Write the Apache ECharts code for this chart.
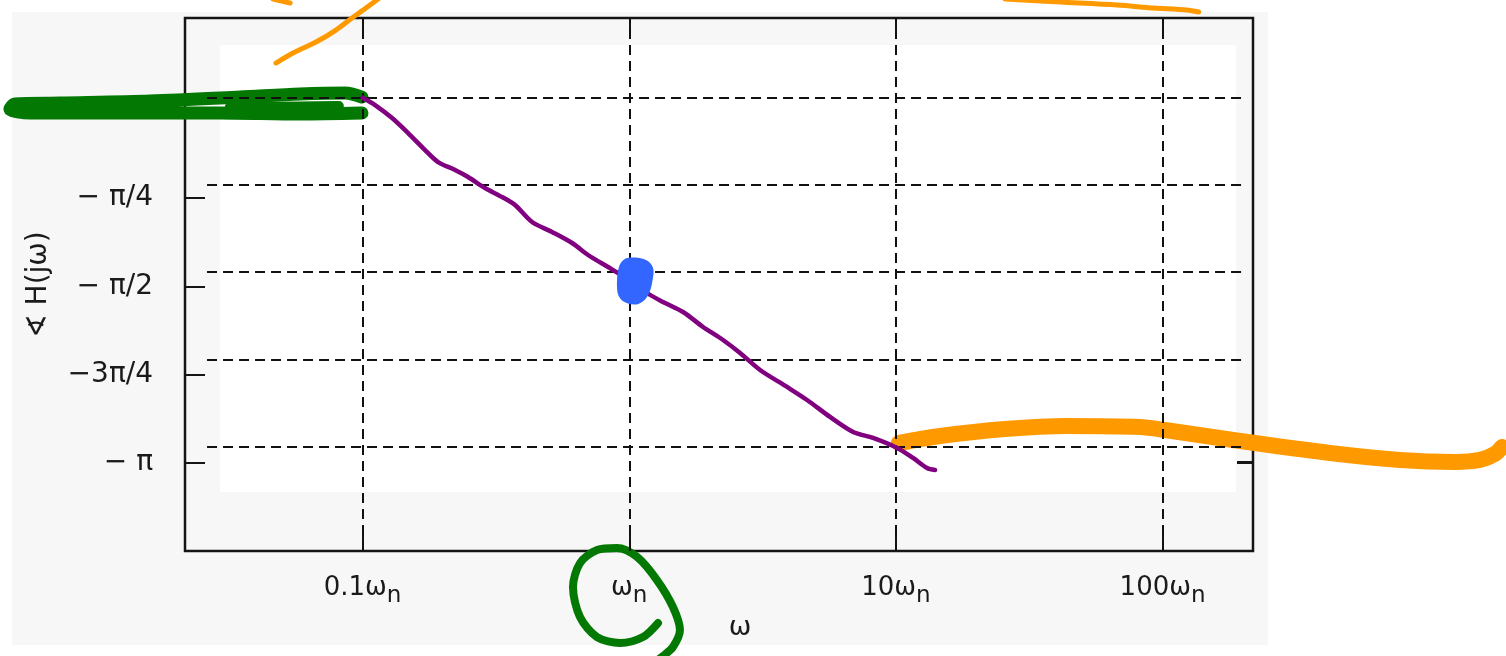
<!DOCTYPE html>
<html>
<head>
<meta charset="utf-8">
<script src="https://cdn.jsdelivr.net/npm/echarts@6/dist/echarts.min.js"></script>
<style>
  html, body { margin: 0; padding: 0; background: #ffffff; }
  #chart { width: 1506px; height: 656px; }
</style>
</head>
<body>
<div id="chart"></div>
<script>
// Phase response of a second-order system, plotted against ω on a log scale (units of ωn)
const PI = Math.PI;

// frequency axis ticks (ω/ωn) and the coefficient written before ωn
const freqTicks = [0.1, 1, 10, 100];
const freqTickPrefix = ['0.1', '', '10', '100'];

// phase axis ticks (rad) and their labels
const phaseTicks = [0, -PI / 4, -PI / 2, -3 * PI / 4, -PI];
const phaseTickLabels = ['0', '− π/4', '− π/2', '−3π/4', '− π'];

// dashed reference grid
const gridFreqs = [0.1, 1, 10, 100];
const gridPhases = [0, -PI / 4, -PI / 2, -3 * PI / 4, -PI];
const gridSpanFreq = [0.0261, 204];

// phase curve sketched in purple: ω/ωn and phase (rad)
const curveW = [0.1, 0.1114, 0.129, 0.1481, 0.1715, 0.1919, 0.2222, 0.2485, 0.2879, 0.3334, 0.373,
  0.432, 0.5135, 0.6103, 0.7005, 0.8328, 0.9078, 1.024, 1.166, 1.339, 1.591, 1.891, 2.247, 2.604,
  3.094, 3.906, 4.642, 5.662, 6.907, 8.208, 10.1, 11.59, 13.08, 14.02];
const curvePhase = [0, -0.066, -0.183, -0.318, -0.471, -0.579, -0.651, -0.714, -0.813, -0.894, -0.966,
  -1.119, -1.209, -1.308, -1.416, -1.524, -1.578, -1.65, -1.758, -1.839, -1.929, -2.064, -2.181, -2.298,
  -2.451, -2.604, -2.721, -2.874, -3.009, -3.063, -3.153, -3.243, -3.333, -3.351];

// marker at the natural frequency
const dotW = [1.051];
const dotPhase = [-1.65];

// low-frequency asymptote (green loop)
const lowW = [0.0995, 0.086, 0.0583, 0.0347, 0.016, 0.00734, 0.00497, 0.00476, 0.00566, 0.0123,
  0.0292, 0.0583, 0.0995];
const lowPhase = [0.006, 0.042, 0.033, 0.006, -0.03, -0.048, -0.057, -0.102, -0.138, -0.138,
  -0.138, -0.147, -0.138];
const lowInnerW = [0.0318, 0.0583, 0.0815];
const lowInnerPhase = [-0.084, -0.079, -0.075];

// high-frequency asymptote (orange band)
const highW = [10.27, 14.64, 25.66, 43.83, 82.33, 102.1, 195.2, 424.6, 777.1, 1249, 1551, 1765, 1875];
const highPhase = [-3.108, -3.045, -2.982, -2.955, -2.964, -2.991, -3.09, -3.198, -3.261, -3.279,
  -3.261, -3.207, -3.144];

// thin orange strokes along the top edge
const arcW = [0.04735, 0.0553, 0.0669, 0.0795, 0.0913, 0.103, 0.1183];
const arcPhase = [0.312, 0.407, 0.501, 0.609, 0.717, 0.807, 0.915];
const tickW = [0.0462, 0.0535];
const tickPhase = [0.888, 0.852];
const topW = [25.66, 41.26, 67.49, 92.6, 123.2, 136.6];
const topPhase = [0.888, 0.861, 0.834, 0.807, 0.789, 0.771];

// circle drawn round the ωn label
const ringW = [1.282, 1.126, 0.9236, 0.7575, 0.6539, 0.6155, 0.6539, 0.7575, 0.9, 1.07, 1.271,
  1.459, 1.55, 1.459, 1.339, 1.249];
const ringPhase = [-4.729, -4.855, -4.909, -4.855, -4.675, -4.405, -4.189, -4.071, -4.053, -4.134,
  -4.342, -4.585, -4.792, -4.945, -5.026, -5.08];

const lg = Math.log10;
const pts = (w, p) => w.map((x, i) => [lg(x), p[i]]);

const FONT = '"DejaVu Sans", "Liberation Sans", sans-serif';
const INK = '#1a1a1a';
const FRAME = '#151515';

const chart = echarts.init(document.getElementById('chart'), null, { renderer: 'canvas' });

// plot frame extents (log10 ω/ωn, rad)
const X_MIN = -1.666, X_MAX = 2.339;
// the same scales stretched over the whole canvas, for the freehand strokes
const OX_MIN = -2.3595, OX_MAX = 3.288, OY_MIN = -5.0257, OY_MAX = 0.8795;

function stroke(name, data, color, width, z) {
  return {
    name, type: 'line', xAxisIndex: 2, yAxisIndex: 3, data,
    smooth: 0.3, showSymbol: false, symbol: 'none', clip: false, silent: true, z,
    lineStyle: { color, width, cap: 'round', join: 'round' }
  };
}

const hiddenAxis = {
  axisLine: { show: false }, axisTick: { show: false }, axisLabel: { show: false }, splitLine: { show: false }
};

chart.setOption({
  animation: false,
  backgroundColor: '#ffffff',
  graphic: [
    { type: 'rect', z: -20, silent: true, shape: { x: 12, y: 12, width: 1256, height: 633 }, style: { fill: '#f7f7f7' } },
    { type: 'rect', z: -19, silent: true, shape: { x: 220, y: 45, width: 1016, height: 447 }, style: { fill: '#ffffff' } }
  ],
  grid: [
    {
      left: 185, right: 253, top: 18, bottom: 105,
      show: true, borderColor: FRAME, borderWidth: 2.5, backgroundColor: 'transparent'
    },
    { left: 0, right: 0, top: 0, bottom: 0, show: false }
  ],
  xAxis: [
    {
      type: 'value', gridIndex: 0, position: 'bottom', min: X_MIN, max: X_MAX,
      name: 'ω', nameLocation: 'middle', nameGap: 63,
      nameTextStyle: { fontFamily: FONT, fontSize: 27, color: INK, padding: [0, 0, 0, 42] },
      axisLine: { show: false, onZero: false },
      splitLine: { show: false },
      axisTick: {
        show: true, inside: true, length: 16, customValues: freqTicks.map(lg),
        lineStyle: { color: FRAME, width: 2 }
      },
      axisLabel: {
        show: true, margin: 17, customValues: freqTicks.map(lg),
        formatter: (v) => {
          const i = freqTicks.findIndex(f => Math.abs(lg(f) - v) < 1e-6);
          return '{m|' + freqTickPrefix[i] + 'ω}{s|n}';
        },
        rich: {
          m: { fontFamily: FONT, fontSize: 26, color: INK, lineHeight: 40 },
          s: { fontFamily: FONT, fontSize: 23, color: INK, lineHeight: 24, verticalAlign: 'bottom' }
        }
      }
    },
    {
      type: 'value', gridIndex: 0, position: 'top', min: X_MIN, max: X_MAX,
      axisLine: { show: false, onZero: false }, splitLine: { show: false }, axisLabel: { show: false },
      axisTick: {
        show: true, inside: true, length: 16, customValues: freqTicks.map(lg),
        lineStyle: { color: FRAME, width: 2 }
      }
    },
    { type: 'value', gridIndex: 1, min: OX_MIN, max: OX_MAX, ...hiddenAxis }
  ],
  yAxis: [
    {
      type: 'value', gridIndex: 0, position: 'left', min: -3.928, max: 0.8195,
      name: '∢ H(jω)', nameLocation: 'middle', nameGap: 132, nameRotate: 90,
      nameTextStyle: { fontFamily: FONT, fontSize: 28, color: INK },
      axisLine: { show: false, onZero: false },
      splitLine: { show: false },
      axisTick: {
        show: true, inside: true, length: 20, customValues: phaseTicks,
        lineStyle: { color: FRAME, width: 2 }
      },
      axisLabel: {
        show: true, margin: 32, customValues: phaseTicks,
        fontFamily: FONT, fontSize: 28, color: INK,
        formatter: (v) => {
          const i = phaseTicks.findIndex(t => Math.abs(t - v) < 1e-6);
          return phaseTickLabels[i];
        }
      }
    },
    {
      type: 'value', gridIndex: 0, position: 'left', min: -4.0805, max: 0.7174,
      ...hiddenAxis, axisLine: { show: false, onZero: false }
    },
    {
      type: 'value', gridIndex: 0, position: 'right', min: -3.928, max: 0.8195,
      axisLine: { show: false, onZero: false }, axisLabel: { show: false }, splitLine: { show: false },
      axisTick: {
        show: true, inside: true, length: 16, customValues: [-PI],
        lineStyle: { color: FRAME, width: 3 }
      }
    },
    { type: 'value', gridIndex: 1, min: OY_MIN, max: OY_MAX, ...hiddenAxis }
  ],
  series: [
    {
      name: 'grid', type: 'line', xAxisIndex: 0, yAxisIndex: 1, data: [], silent: true, z: 1,
      markLine: {
        silent: true, symbol: ['none', 'none'], label: { show: false }, animation: false,
        lineStyle: { color: '#111111', width: 2, type: [10, 6] },
        emphasis: { disabled: true },
        data: [
          ...gridFreqs.map(f => ({ xAxis: lg(f) })),
          ...gridPhases.map(p => [{ coord: [lg(gridSpanFreq[0]), p] }, { coord: [lg(gridSpanFreq[1]), p] }])
        ]
      }
    },
    stroke('low', pts(lowW, lowPhase), '#037803', 13, 3),
    stroke('lowInner', pts(lowInnerW, lowInnerPhase), '#037803', 10, 3),
    stroke('high', pts(highW, highPhase), '#ff9900', 16, 3),
    stroke('arc', pts(arcW, arcPhase), '#ff9900', 5, 3),
    stroke('arcTip', pts(tickW, tickPhase), '#ff9900', 5, 3),
    stroke('top', pts(topW, topPhase), '#ff9900', 5, 3),
    stroke('ring', pts(ringW, ringPhase), '#037803', 8, 3),
    {
      name: 'phase', type: 'line', xAxisIndex: 0, yAxisIndex: 1, data: pts(curveW, curvePhase),
      smooth: 0.3, showSymbol: false, symbol: 'none', clip: false, silent: true, z: 5,
      lineStyle: { color: '#800080', width: 4.5, cap: 'round', join: 'round' }
    },
    {
      name: 'ωn', type: 'scatter', xAxisIndex: 0, yAxisIndex: 1, data: pts(dotW, dotPhase),
      symbol: 'path://M11,1 C24,-1 36,3 35,16 C34,30 33,41 22,46 C12,48 2,44 1,32 C0,19 -1,3 11,1 Z',
      symbolSize: [36, 47], symbolRotate: -4, silent: true, z: 6,
      itemStyle: { color: '#3366ff', opacity: 1 }
    }
  ]
});
</script>
</body>
</html>
